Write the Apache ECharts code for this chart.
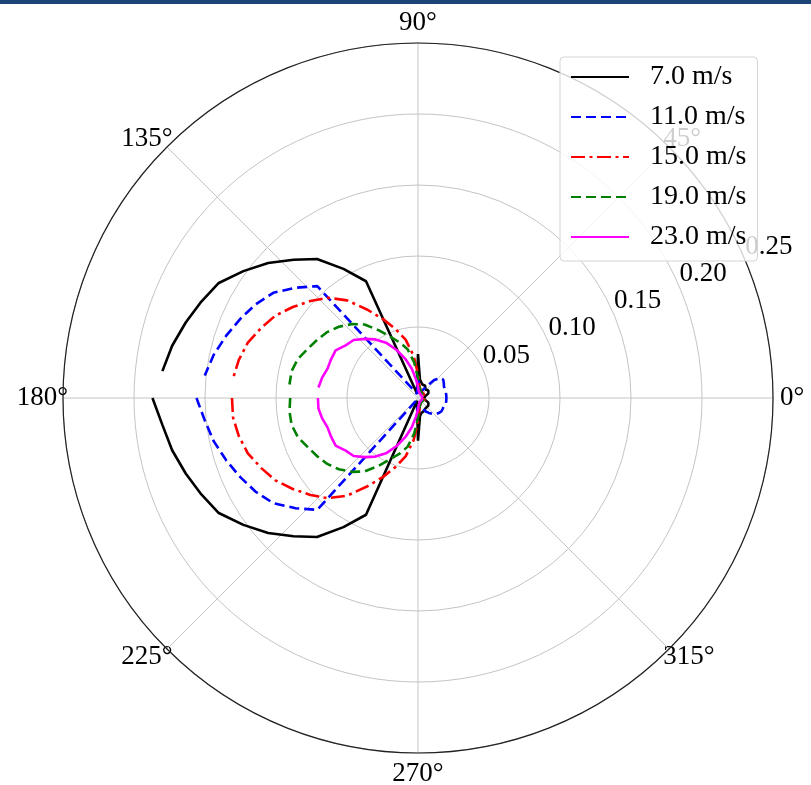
<!DOCTYPE html>
<html><head><meta charset="utf-8">
<script src="https://cdn.jsdelivr.net/npm/echarts@6/dist/echarts.min.js"></script>
<style>html,body{margin:0;padding:0;background:#fff}#c{width:811px;height:785px}</style>
</head><body><div id="c"></div>
<script>
// sampling angles (degrees), in drawing order
const angleDeg = [180,186,192,198,204,210,216,222,228,234,240,246,252,258,264,270,276,282,288,294,300,306,312,318,324,330,336,342,348,354,
                  0,6,12,18,24,30,36,42,48,54,60,66,72,78,84,90,96,102,108,114,120,126,132,138,144,150,156,162,168,174];
const seriesNames = ['7.0 m/s','11.0 m/s','15.0 m/s','19.0 m/s','23.0 m/s'];
const r7 = [0.187,0.181,0.177,0.172,0.167,0.162,0.152,0.142,0.131,0.121,0.105,0.090,0.002,0.003,0.006,0.030,0.013,0.011,0.010,0.010,0.010,0.009,0.008,0.009,0.009,0.009,0.008,0.006,0.005,0.004,
            0.004,0.004,0.005,0.006,0.008,0.009,0.009,0.009,0.008,0.009,0.010,0.010,0.010,0.011,0.013,0.031,0.006,0.003,0.002,0.090,0.105,0.121,0.131,0.142,0.152,0.162,0.167,0.172,0.177,0.181];
const r11 = [0.156,0.151,0.147,0.142,0.137,0.132,0.126,0.116,0.106,0.003,0.002,0.002,0.002,0.003,0.005,0.014,0.008,0.005,0.004,0.005,0.011,0.013,0.015,0.017,0.018,0.019,0.019,0.019,0.020,0.020,
             0.020,0.020,0.020,0.020,0.020,0.021,0.022,0.021,0.017,0.010,0.006,0.004,0.004,0.005,0.008,0.014,0.005,0.003,0.002,0.002,0.002,0.003,0.106,0.116,0.126,0.132,0.137,0.142,0.147,0.151];
const r15 = [0.131,0.131,0.129,0.126,0.121,0.116,0.109,0.102,0.095,0.085,0.072,0.061,0.051,0.042,0.030,0.017,0.009,0.006,0.005,0.005,0.004,0.004,0.005,0.005,0.004,0.004,0.005,0.005,0.004,0.004,
             0.003,0.004,0.004,0.005,0.005,0.004,0.004,0.005,0.005,0.004,0.004,0.005,0.005,0.006,0.009,0.017,0.030,0.042,0.051,0.061,0.072,0.085,0.095,0.102,0.109,0.116,0.121,0.126,0.129,0.131];
const r19 = [0.090,0.091,0.091,0.089,0.085,0.082,0.079,0.075,0.070,0.064,0.055,0.047,0.041,0.035,0.025,0.014,0.008,0.006,0.005,0.005,0.004,0.004,0.004,0.004,0.004,0.004,0.004,0.004,0.003,0.003,
             0.003,0.003,0.003,0.004,0.004,0.004,0.004,0.004,0.004,0.004,0.004,0.005,0.005,0.006,0.008,0.014,0.025,0.035,0.041,0.047,0.055,0.064,0.070,0.075,0.079,0.082,0.085,0.089,0.091,0.091];
const r23 = [0.0705,0.0705,0.069,0.067,0.067,0.067,0.063,0.061,0.056,0.051,0.045,0.037,0.029,0.021,0.013,0.008,0.005,0.004,0.004,0.003,0.003,0.003,0.003,0.003,0.003,0.003,0.003,0.003,0.003,0.003,
             0.003,0.003,0.003,0.003,0.003,0.003,0.003,0.003,0.003,0.003,0.003,0.003,0.004,0.004,0.005,0.008,0.013,0.021,0.029,0.037,0.045,0.051,0.056,0.061,0.063,0.067,0.067,0.067,0.069,0.0705];
const angleTicks = [0,45,90,135,180,225,270,315];
const radiusTicks = [0.05,0.10,0.15,0.20,0.25];

const FONT = 'Liberation Serif';
const C = [418, 398], R = 355;
const grid = '#c4c4c4';
const colors = ['#000000','#0000ff','#ff0000','#008000','#ff00ff'];
const dashes = ['solid',[10,5],[14,4.5,3,4.5],[10,5],'solid'];
const values = [r7,r11,r15,r19,r23];

function angLabel(list, margin, polarIndex, extra) {
  return Object.assign({
    polarIndex: polarIndex, type: 'value', min: 0, max: 360, interval: 45,
    startAngle: 0, clockwise: false,
    axisLine: {show: false}, axisTick: {show: false}, splitLine: {show: false},
    axisLabel: {margin: margin, fontFamily: FONT, fontSize: 27, color: '#000',
      formatter: v => (list.indexOf(v) >= 0 && angleTicks.indexOf(v) >= 0) ? v + '°' : ''}
  }, extra || {});
}

const chart = echarts.init(document.getElementById('c'));
chart.setOption({
  animation: false,
  backgroundColor: '#fff',
  graphic: [{type: 'rect', left: 0, top: 0, shape: {width: 811, height: 4}, style: {fill: '#1b4576'}}],
  polar: [
    {center: C, radius: R}, {center: C, radius: R}, {center: C, radius: R}, {center: C, radius: R}
  ],
  angleAxis: [
    angLabel([0, 90, 270], 7, 0, {
      z: 1,
      axisLine: {show: true, lineStyle: {color: '#222', width: 1.2}},
      splitLine: {show: true, lineStyle: {color: grid, width: 1}}
    }),
    {polarIndex: 1, type: 'value', min: 0, max: 360, startAngle: 22.5, clockwise: false, show: false},
    angLabel([180], -5, 2),
    angLabel([45, 135, 225, 315], -8, 3)
  ],
  radiusAxis: [
    {polarIndex: 0, type: 'value', min: 0, max: 0.25, interval: 0.05,
      axisLine: {show: false}, axisTick: {show: false}, axisLabel: {show: false},
      splitLine: {show: true, lineStyle: {color: grid, width: 1}}},
    {polarIndex: 1, type: 'value', min: 0, max: 0.25, interval: 0.05,
      axisLine: {show: false}, axisTick: {show: false}, splitLine: {show: false},
      axisLabel: {show: true, margin: 2, align: 'left', verticalAlign: 'bottom',
        fontFamily: FONT, fontSize: 27, color: '#000',
        formatter: v => radiusTicks.some(t => Math.abs(t - v) < 1e-9) ? v.toFixed(2) : ''}},
    {polarIndex: 2, type: 'value', min: 0, max: 0.25, show: false},
    {polarIndex: 3, type: 'value', min: 0, max: 0.25, show: false}
  ],
  legend: {
    orient: 'vertical', left: 560, top: 57, padding: [6, 11, 10, 10],
    itemWidth: 58, itemHeight: 14, itemGap: 12,
    itemStyle: {opacity: 0, borderWidth: 0},
    backgroundColor: 'rgba(255,255,255,0.8)', borderColor: '#d4d4d4', borderWidth: 1, borderRadius: 4,
    textStyle: {fontFamily: FONT, fontSize: 28, color: '#000', padding: [0, 0, 0, 16]},
    data: seriesNames
  },
  series: seriesNames.map((name, k) => ({
    name: name, type: 'line', coordinateSystem: 'polar', polarIndex: 0,
    symbol: 'none', z: 3,
    data: angleDeg.map((a, i) => [values[k][i], a]),
    itemStyle: {color: colors[k]},
    lineStyle: {color: colors[k], width: 2.6, type: dashes[k]}
  }))
});
</script></body></html>
